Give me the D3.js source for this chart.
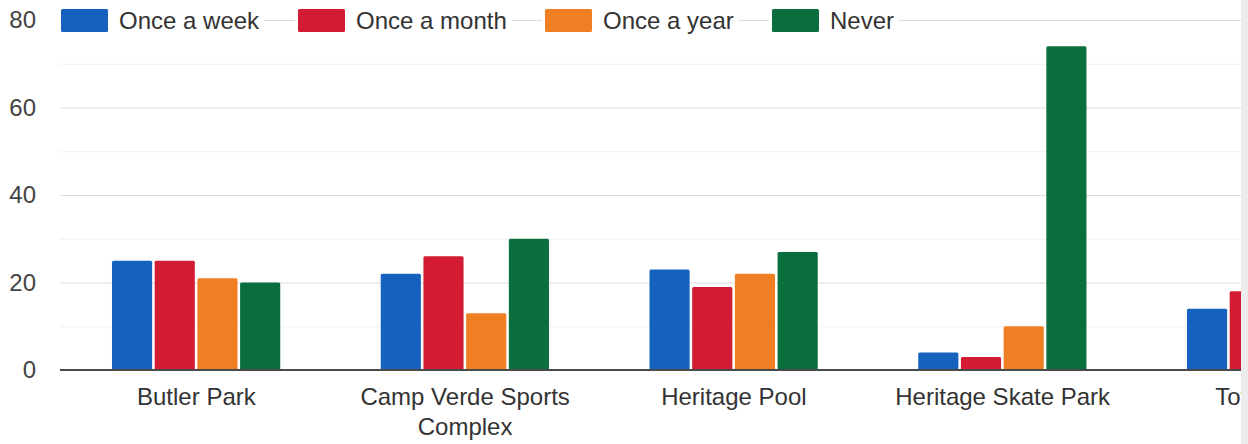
<!DOCTYPE html>
<html>
<head>
<meta charset="utf-8">
<script src="https://cdn.jsdelivr.net/npm/d3@7"></script>
<style>
  html, body { margin: 0; padding: 0; background: #fff; }
  svg { display: block; font-family: Arial, "Liberation Sans", sans-serif; }
</style>
</head>
<body>
<div id="chart"></div>
<script>
const categories = ["Butler Park", "Camp Verde Sports Complex", "Heritage Pool", "Heritage Skate Park", "Town Park"];
const series = ["Once a week", "Once a month", "Once a year", "Never"];
const colors = ["#1561bd", "#d31b33", "#f07f24", "#0b6e3d"];
const onceAWeek = [25, 22, 23, 4, 14];
const onceAMonth = [25, 26, 19, 3, 18];
const onceAYear = [21, 13, 22, 10, 16];
const never = [20, 30, 27, 74, 45];
const yTicks = [0, 20, 40, 60, 80];
const yMinor = [10, 30, 50, 70];

const values = [onceAWeek, onceAMonth, onceAYear, never];
const width = 1248, height = 444;

const svg = d3.select("#chart").append("svg")
    .attr("width", width)
    .attr("height", height);

const y = d3.scaleLinear().domain([0, 80]).range([370, 20]);

// band step ~268.75px, chart runs past the right edge (cropped)
const step = 268.75;
const x = d3.scaleBand()
    .domain(categories)
    .range([62, 62 + step * categories.length])
    .padding(0);

const xs = d3.scaleBand()
    .domain(series)
    .range([x.bandwidth() * 0.186, x.bandwidth() * 0.812])
    .paddingInner(0.06);

// gridlines
svg.append("g").selectAll("line.minor")
    .data(yMinor)
    .join("line")
    .attr("x1", 60).attr("x2", width)
    .attr("y1", d => y(d) + 0.5).attr("y2", d => y(d) + 0.5)
    .attr("stroke", "#f1f1f1");

svg.append("g").selectAll("line.major")
    .data(yTicks.filter(d => d > 0))
    .join("line")
    .attr("x1", 60).attr("x2", width)
    .attr("y1", d => y(d) + 0.5).attr("y2", d => y(d) + 0.5)
    .attr("stroke", "#dcdcdc");

// y tick labels
svg.append("g").selectAll("text")
    .data(yTicks)
    .join("text")
    .attr("x", 36)
    .attr("y", d => y(d))
    .attr("dy", "0.35em")
    .attr("text-anchor", "end")
    .attr("font-size", 24)
    .attr("fill", "#444")
    .text(d => d);

// bars
const groups = svg.append("g").selectAll("g")
    .data(categories)
    .join("g")
    .attr("transform", d => `translate(${x(d)},0)`);

groups.selectAll("rect")
    .data((c, i) => series.map((s, j) => ({ s, j, v: values[j][i] })))
    .join("rect")
    .attr("x", d => xs(d.s))
    .attr("y", d => y(d.v))
    .attr("width", xs.bandwidth())
    .attr("height", d => y(0) - y(d.v))
    .attr("rx", 1.5)
    .attr("fill", d => colors[d.j]);

// baseline
svg.append("line")
    .attr("x1", 60).attr("x2", width)
    .attr("y1", y(0)).attr("y2", y(0))
    .attr("stroke", "#4a4a4a")
    .attr("stroke-width", 2);

// category labels, wrapped
const labels = svg.append("g").selectAll("text")
    .data(categories)
    .join("text")
    .attr("x", d => x(d) + x.bandwidth() / 2)
    .attr("y", 405)
    .attr("text-anchor", "middle")
    .attr("font-size", 24)
    .attr("fill", "#333");

labels.each(function (d) {
    const t = d3.select(this);
    const cx = x(d) + x.bandwidth() / 2;
    const words = d.split(" ");
    let line = [];
    let tspan = t.append("tspan").attr("x", cx).attr("dy", 0);
    let lineNo = 0;
    for (const w of words) {
        line.push(w);
        tspan.text(line.join(" "));
        if (tspan.node().getComputedTextLength() > 240 && line.length > 1) {
            line.pop();
            tspan.text(line.join(" "));
            line = [w];
            lineNo++;
            tspan = t.append("tspan").attr("x", cx).attr("dy", 30).text(w);
        }
    }
});

// legend
const legendX = [61, 298, 545, 772];
const legend = svg.append("g").selectAll("g")
    .data(series)
    .join("g")
    .attr("transform", (d, i) => `translate(${legendX[i]},9)`);

legend.append("rect")
    .attr("class", "bg")
    .attr("x", -3).attr("y", -2)
    .attr("height", 27)
    .attr("fill", "#fff");

legend.append("rect")
    .attr("width", 47).attr("height", 23)
    .attr("rx", 1.5)
    .attr("fill", (d, i) => colors[i]);

legend.append("text")
    .attr("x", 58)
    .attr("y", 11.5)
    .attr("dy", "0.35em")
    .attr("font-size", 24)
    .attr("fill", "#333")
    .text(d => d);

legend.each(function () {
    const g = d3.select(this);
    const w = g.select("text").node().getComputedTextLength();
    g.select("rect.bg").attr("width", 58 + w + 8);
});

// scan edge at the right
svg.append("rect")
    .attr("x", 1241).attr("y", 0)
    .attr("width", 7).attr("height", height)
    .attr("fill", "#ececec");
</script>
</body>
</html>
